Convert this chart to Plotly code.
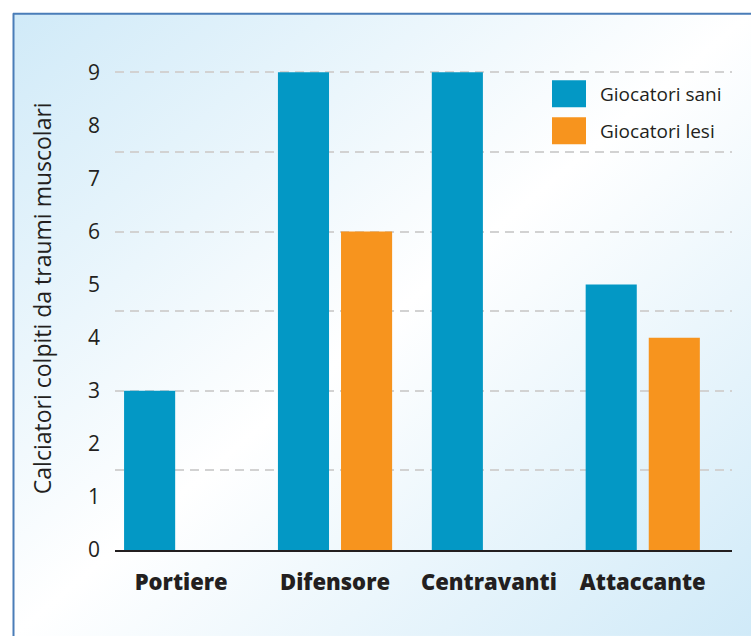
import base64
import plotly.graph_objects as go

# ---- data ----
categories = ["Portiere", "Difensore", "Centravanti", "Attaccante"]
series_names = ["Giocatori sani", "Giocatori lesi"]
sani = [3, 9, 9, 5]
lesi = [0, 6, 0, 4]
y_ticks = [0, 1, 2, 3, 4, 5, 6, 7, 8, 9]
grid_vals = [1.5, 3, 4.5, 6, 7.5, 9]
y_title = "Calciatori colpiti da traumi muscolari"

BLUE = "#0398c5"
ORANGE = "#f7941e"
TXT = "#231f20"
FONT = "Open Sans"

Y_MAX = 9.1
W, H = 751, 636
L, R, B = 115, 19, 86
ph = 478 * Y_MAX / 9
T = H - B - ph
pw = W - L - R


def px_x(p):
    return (p - L) / pw


def px_y(p):
    return (H - B - p) / ph


fig = go.Figure()
fig.add_trace(go.Bar(x=categories, y=sani, name=series_names[0],
                     marker=dict(color=BLUE, line=dict(width=0)), showlegend=False))
fig.add_trace(go.Bar(x=categories, y=lesi, name=series_names[1],
                     marker=dict(color=ORANGE, line=dict(width=0)), showlegend=False))
# invisible trace to activate the grid axis
fig.add_trace(go.Scatter(x=[categories[0]], y=[None], yaxis="y2", mode="markers",
                         showlegend=False, hoverinfo="skip"))

# gradient background as svg image
gw, gh = W - 13, H - 13
svg = (f'<svg xmlns="http://www.w3.org/2000/svg" width="{gw}" height="{gh}" '
       f'viewBox="0 0 {gw} {gh}" preserveAspectRatio="none">'
       '<defs><linearGradient id="g" x1="0" y1="0" x2="1" y2="1">'
       '<stop offset="0" stop-color="#d0eaf8"/>'
       '<stop offset="0.5" stop-color="#ffffff"/>'
       '<stop offset="1" stop-color="#d0eaf8"/>'
       '</linearGradient></defs>'
       f'<rect width="{gw}" height="{gh}" fill="url(#g)"/></svg>')
src = "data:image/svg+xml;base64," + base64.b64encode(svg.encode()).decode()

fig.add_layout_image(dict(source=src, xref="paper", yref="paper",
                          x=px_x(13), y=px_y(13), sizex=gw / pw, sizey=gh / ph,
                          xanchor="left", yanchor="top", sizing="stretch",
                          layer="below"))

shapes = [
    dict(type="line", xref="paper", yref="paper", x0=px_x(13), x1=px_x(W + 5),
         y0=px_y(13.5), y1=px_y(13.5), line=dict(color="#4a7db8", width=2)),
    dict(type="line", xref="paper", yref="paper", x0=px_x(13.5), x1=px_x(13.5),
         y0=px_y(13), y1=px_y(H + 5), line=dict(color="#4a7db8", width=2)),
    dict(type="rect", xref="paper", yref="paper", x0=px_x(552), x1=px_x(586),
         y0=px_y(107), y1=px_y(80), fillcolor=BLUE, line=dict(width=0)),
    dict(type="rect", xref="paper", yref="paper", x0=px_x(552), x1=px_x(586),
         y0=px_y(144), y1=px_y(117), fillcolor=ORANGE, line=dict(width=0)),
]

annotations = [
    dict(text=series_names[0], xref="paper", yref="paper", x=px_x(598), y=px_y(94),
         xanchor="left", yanchor="middle", showarrow=False,
         font=dict(family=FONT, size=19, color=TXT)),
    dict(text=series_names[1], xref="paper", yref="paper", x=px_x(598), y=px_y(131),
         xanchor="left", yanchor="middle", showarrow=False,
         font=dict(family=FONT, size=19, color=TXT)),
    dict(text=y_title, xref="paper", yref="paper", x=px_x(42), y=px_y(298),
         xanchor="center", yanchor="middle", textangle=-90, showarrow=False,
         font=dict(family=FONT, size=23, color=TXT)),
]

fig.update_layout(
    width=W, height=H,
    margin=dict(l=L, r=R, t=T, b=B, autoexpand=False),
    paper_bgcolor="white",
    plot_bgcolor="rgba(0,0,0,0)",
    barmode="group", bargap=0.18, bargroupgap=0.19,
    font=dict(family=FONT, color=TXT),
    xaxis=dict(type="category", range=[-0.43, 3.58], showgrid=False, zeroline=False,
               showline=True, linecolor=TXT, linewidth=2, ticks="",
               ticklabelstandoff=12,
               tickfont=dict(family=FONT, size=22, color=TXT, weight=800)),
    yaxis=dict(range=[0, Y_MAX], tickvals=y_ticks, showgrid=False, zeroline=False,
               showline=False, ticks="", ticklabelstandoff=14,
               tickfont=dict(family=FONT, size=21, color=TXT)),
    yaxis2=dict(overlaying="y", range=[0, Y_MAX], tickvals=grid_vals, showticklabels=False,
                showgrid=True, gridcolor="#d2d2d2", gridwidth=2, griddash="9px,6px",
                zeroline=False, showline=False, ticks=""),
    shapes=shapes,
    annotations=annotations,
    showlegend=False,
)

fig.write_html("out.html")
